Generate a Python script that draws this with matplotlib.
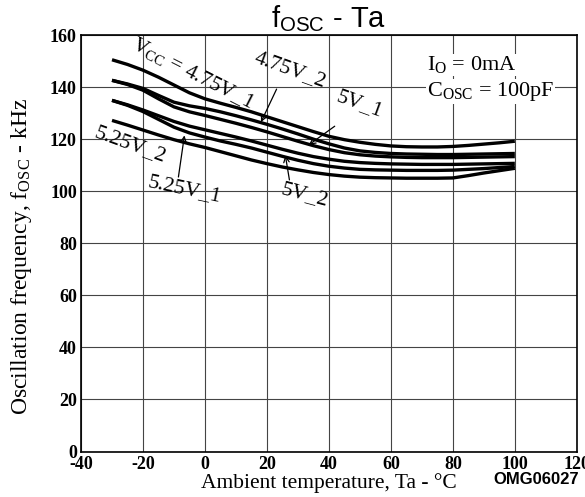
import numpy as np
import matplotlib
matplotlib.use("Agg")
import matplotlib.pyplot as plt

# ----------------------------------------------------------
# data (fOSC vs Ta), every 5 degC
# ----------------------------------------------------------
ta = [-30, -25, -20, -15, -10, -5, 0, 5, 10, 15, 20, 25, 30, 35, 40, 45, 50,
      55, 60, 65, 70, 75, 80, 85, 90, 95, 100]
f_475_1 = [150.5, 148.7, 146.5, 143.8, 140.8, 137.8, 135.5, 133.8, 132.2, 130.5, 128.6,
           126.7, 124.8, 122.9, 121.1, 119.8, 118.8, 118.0, 117.4, 117.1, 117.0, 117.0,
           117.2, 117.6, 118.1, 118.6, 119.2]
f_475_2 = [142.6, 141.2, 139.5, 136.8, 134.2, 132.8, 131.8, 130.5, 129.0, 127.4, 125.7,
           123.9, 122.0, 120.0, 118.2, 116.6, 115.5, 114.9, 114.5, 114.3, 114.2, 114.1,
           114.1, 114.2, 114.3, 114.4, 114.5]
f_5_1 = [142.6, 141.0, 138.8, 135.5, 132.4, 130.5, 129.1, 127.6, 126.1, 124.5, 122.8,
         121.0, 119.2, 117.5, 116.0, 114.8, 114.0, 113.5, 113.2, 113.0, 112.9, 112.9,
         112.9, 113.0, 113.1, 113.2, 113.3]
f_5_2 = [134.9, 133.2, 131.2, 129.0, 126.8, 125.0, 123.6, 122.2, 120.8, 119.3, 117.7,
         116.1, 114.6, 113.3, 112.3, 111.5, 111.0, 110.7, 110.5, 110.4, 110.3, 110.3,
         110.3, 110.4, 110.5, 110.6, 110.7]
f_525_1 = [134.9, 133.0, 130.6, 127.6, 124.6, 122.4, 120.8, 119.3, 118.0, 116.6, 115.0,
           113.4, 111.9, 110.6, 109.6, 108.9, 108.4, 108.2, 108.1, 108.0, 108.0, 108.0,
           108.1, 108.4, 108.7, 109.1, 109.5]
f_525_2 = [127.2, 125.4, 123.5, 121.6, 119.8, 118.2, 116.8, 115.2, 113.6, 112.0, 110.6,
           109.3, 108.2, 107.2, 106.4, 105.8, 105.4, 105.2, 105.1, 105.0, 105.0, 105.0,
           105.1, 106.0, 107.0, 107.9, 108.8]
curves = [f_475_1, f_475_2, f_5_1, f_5_2, f_525_1, f_525_2]

xticks = [-40, -20, 0, 20, 40, 60, 80, 100, 120]
yticks = [0, 20, 40, 60, 80, 100, 120, 140, 160]

plt.rcParams.update({
    "font.family": "Liberation Serif",
    "axes.unicode_minus": False,
    "mathtext.fontset": "custom",
    "mathtext.rm": "Liberation Serif",
    "mathtext.it": "Liberation Serif:italic",
    "mathtext.bf": "Liberation Serif:bold",
    "mathtext.sf": "Liberation Sans",
})

fig = plt.figure(figsize=(5.85, 4.97), dpi=100)
ax = fig.add_axes([0.1385, 0.0915, 0.8475, 0.838])

for c in curves:
    ax.plot(ta, c, color="black", lw=2.4, solid_capstyle="butt", solid_joinstyle="round")

ax.set_xlim(-40, 120)
ax.set_ylim(0, 160)
ax.set_xticks(xticks)
ax.set_yticks(yticks)
ax.grid(True, color="#444444", lw=0.8)
ax.set_axisbelow(True)
ax.tick_params(length=0, pad=3)
for lab in ax.get_xticklabels() + ax.get_yticklabels():
    lab.set_fontweight("bold")
    lab.set_fontsize(13)
for s in ax.spines.values():
    s.set_linewidth(1.2)

ax.set_xlabel("Ambient temperature, Ta - °C", fontsize=15.5, va="center")
ax.xaxis.set_label_coords(0.5, -0.076)
ax.set_ylabel(r"Oscillation frequency, f$_{\rm OSC}$ - kHz", fontsize=17, va="center")
ax.yaxis.set_label_coords(-0.121, 0.468)
fig.text(0.561, 0.962, r"f$_{\mathsf{OSC}}$ - Ta", family="Liberation Sans",
         fontsize=21, ha="center", va="center")
fig.text(0.916, 0.036, "OMG06027", family="Liberation Sans", fontweight="bold",
         fontsize=12, ha="center", va="center")

# labels on the curves
txt = dict(fontsize=15.5, ha="center", va="center")
ax.text(-3.9, 145.2, r"V$_{\rm CC}$ = 4.75V_1", rotation=-27, **txt)
ax.text(27.4, 146.7, "4.75V_2", rotation=-20, **txt)
ax.text(50, 133.3, "5V_1", rotation=-20, **txt)
ax.text(-24, 117.9, "5.25V_2", rotation=-20, **txt)
ax.text(-6.5, 100.6, "5.25V_1", rotation=-12, **txt)
ax.text(32.3, 98.7, "5V_2", rotation=-15, **txt)

arr = dict(arrowstyle="->", color="black", lw=0.9)
ax.annotate("", xy=(17.7, 125.6), xytext=(23.5, 140.2), arrowprops=arr)
ax.annotate("", xy=(32.8, 117.2), xytext=(42.6, 125.6), arrowprops=arr)
ax.annotate("", xy=(-6.5, 122.5), xytext=(-8.7, 104.4), arrowprops=arr)
ax.annotate("", xy=(25.8, 114.8), xytext=(27.4, 103.3), arrowprops=arr)

box = dict(facecolor="white", edgecolor="none", pad=0.5)
ax.text(71.5, 148.6, r"I$_{\rm O}$ = 0mA", fontsize=16, ha="left", va="center", bbox=box)
ax.text(71.5, 138.3, r"C$_{\rm OSC}$ = 100pF", fontsize=16, ha="left", va="center", bbox=box)

fig.savefig("out.png", dpi=100)
